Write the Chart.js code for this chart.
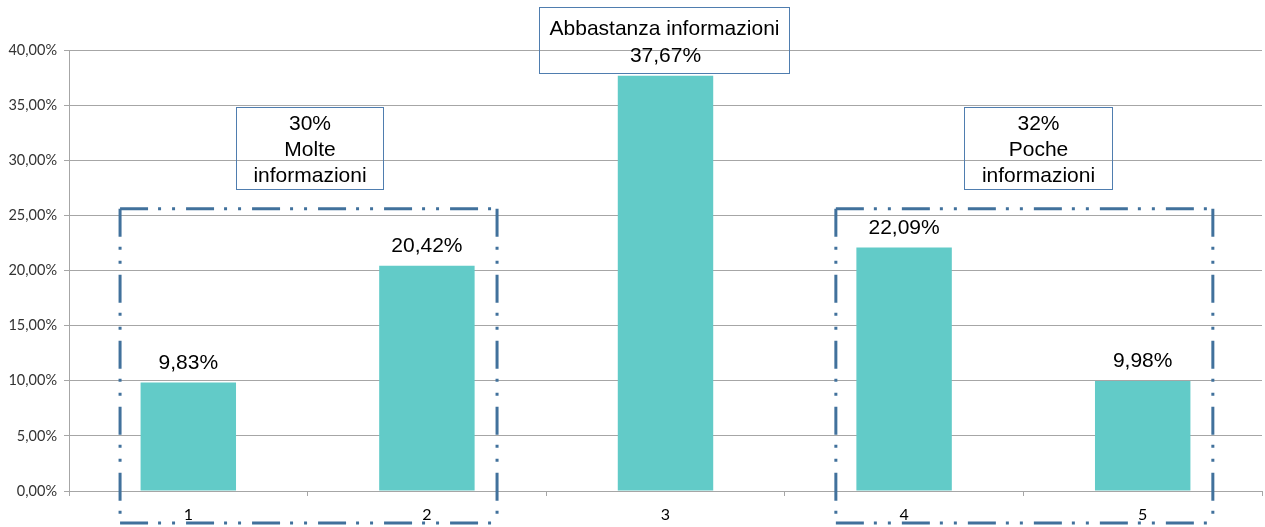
<!DOCTYPE html>
<html>
<head>
<meta charset="utf-8">
<script src="https://cdn.jsdelivr.net/npm/chart.js@4/dist/chart.umd.min.js"></script>
<style>
  html, body { margin: 0; padding: 0; background: #ffffff; }
  #wrap { width: 1265px; height: 527px; position: relative; }
</style>
</head>
<body>
<div id="wrap"><canvas id="c"></canvas></div>
<script>
// Survey answers on a 1–5 scale: share of respondents per answer
const categories = ['1', '2', '3', '4', '5'];
const shares = [9.83, 20.42, 37.67, 22.09, 9.98];
const yMin = 0, yMax = 40, yStep = 5;

// Answer groups and their captions
const groupMembers = [[0, 1], [2], [3, 4]];
const groupNames = [['Molte', 'informazioni'], ['Abbastanza informazioni'], ['Poche', 'informazioni']];

const pct = (v, d) => v.toFixed(d).replace('.', ',') + '%';

// Placement of the group captions and frames, in scale units
const captionBoxes = [
  { x0: 0.20, x1: 0.816, y0: 34.86, y1: 27.37, pctLine: true },
  { x0: 1.469, x1: 2.518, y0: 43.87, y1: 37.94, pctLine: false },
  { x0: 3.252, x1: 3.873, y0: 34.86, y1: 27.37, pctLine: true }
];
const frameSpan = { left: -0.286, right: 0.294, top: 25.6, bottom: -2.9 };

const LABEL_FONT = '21px "Liberation Sans", Arial, sans-serif';
const FRAME_COLOR = '#41719C';
const BOX_COLOR = '#4F7DAF';

const annotations = {
  id: 'annotations',
  afterDatasetsDraw(chart) {
    const { ctx, scales: { x, y } } = chart;
    const meta = chart.getDatasetMeta(0);
    ctx.save();

    // value labels above the bars
    ctx.font = LABEL_FONT;
    ctx.fillStyle = '#000000';
    ctx.textAlign = 'center';
    ctx.textBaseline = 'middle';
    meta.data.forEach((bar, i) => {
      ctx.fillText(pct(shares[i], 2), bar.x, bar.y - 19.5);
    });

    // dash-dot-dot frames around multi-answer groups
    ctx.strokeStyle = FRAME_COLOR;
    ctx.lineWidth = 3;
    ctx.lineCap = 'butt';
    ctx.setLineDash([28, 10, 3, 11, 3, 11]);
    groupMembers.forEach(m => {
      if (m.length < 2) return;
      const l = x.getPixelForValue(m[0] + frameSpan.left);
      const r = x.getPixelForValue(m[m.length - 1] + frameSpan.right);
      const t = y.getPixelForValue(frameSpan.top);
      const b = y.getPixelForValue(frameSpan.bottom);
      ctx.beginPath();
      ctx.moveTo(l, t); ctx.lineTo(r, t);
      ctx.moveTo(r, t); ctx.lineTo(r, b);
      ctx.moveTo(l, b); ctx.lineTo(r, b);
      ctx.moveTo(l, t); ctx.lineTo(l, b);
      ctx.stroke();
    });
    ctx.setLineDash([]);

    // caption boxes
    ctx.lineWidth = 1;
    ctx.strokeStyle = BOX_COLOR;
    captionBoxes.forEach((bx, gi) => {
      const l = Math.round(x.getPixelForValue(bx.x0)) + 0.5;
      const r = Math.round(x.getPixelForValue(bx.x1)) + 0.5;
      const t = Math.round(y.getPixelForValue(bx.y0)) + 0.5;
      const b = Math.round(y.getPixelForValue(bx.y1)) + 0.5;
      ctx.strokeRect(l, t, r - l, b - t);
      const lines = [];
      if (bx.pctLine) {
        const total = groupMembers[gi].reduce((s, k) => s + shares[k], 0);
        lines.push(Math.round(total) + '%');
      }
      lines.push(...groupNames[gi]);
      const cx = (l + r) / 2;
      const firstY = t + 16.5 + (bx.pctLine ? 0 : 5);
      lines.forEach((txt, k) => ctx.fillText(txt, cx, firstY + k * 26));
    });

    ctx.restore();
  }
};

new Chart(document.getElementById('c'), {
  type: 'bar',
  data: {
    labels: categories,
    datasets: [{
      data: shares,
      backgroundColor: '#62CBC8',
      borderWidth: 0,
      barPercentage: 0.4,
      categoryPercentage: 1.0
    }]
  },
  options: {
    responsive: true,
    maintainAspectRatio: false,
    animation: false,
    layout: { padding: { top: 50, right: 3, left: 0, bottom: 0 } },
    plugins: { legend: { display: false }, tooltip: { enabled: false } },
    scales: {
      x: {
        grid: { drawOnChartArea: false, offset: true, tickLength: 5, color: '#A6A6A6' },
        border: { color: '#A6A6A6' },
        ticks: { color: '#000000', font: { family: 'Lato', size: 16 }, padding: 9 },
        afterFit(s) { s.height = 36; }
      },
      y: {
        min: yMin, max: yMax,
        grid: { color: '#A6A6A6', tickLength: 5 },
        border: { color: '#A6A6A6' },
        ticks: {
          stepSize: yStep,
          color: '#333333',
          font: { family: 'Lato', size: 14.5 },
          padding: 7,
          callback: v => pct(v, 2)
        },
        afterFit(s) { s.width = 69; }
      }
    }
  },
  plugins: [annotations]
});
</script>
</body>
</html>
